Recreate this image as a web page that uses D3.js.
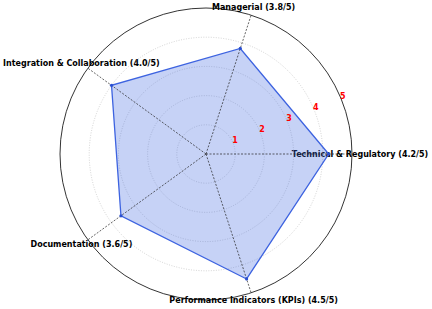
<!DOCTYPE html>
<html>
<head>
<meta charset="utf-8">
<script src="https://cdn.jsdelivr.net/npm/d3@7"></script>
<style>
  body { margin: 0; background: #fff; }
  svg { display: block; font-family: "DejaVu Sans", sans-serif; }
</style>
</head>
<body>
<div id="chart"></div>
<script>
// axis names and scores (out of 5)
var CATEGORIES = ['Technical & Regulatory', 'Managerial', 'Integration & Collaboration', 'Documentation', 'Performance Indicators (KPIs)'];
var SCORES = [4.2, 3.8, 4.0, 3.6, 4.5];
var RTICKS = [1, 2, 3, 4, 5];
var MAXSCORE = 5;

var width = 432, height = 309;
var cx = 206, cy = 154, radius = 146;

var svg = d3.select('#chart').append('svg')
    .attr('width', width)
    .attr('height', height);

var g = svg.append('g').attr('transform', 'translate(' + cx + ',' + cy + ')');

var r = d3.scaleLinear().domain([0, MAXSCORE]).range([0, radius]);
var angle = d3.scaleLinear().domain([0, CATEGORIES.length]).range([0, 2 * Math.PI]);

// polar -> screen (angle counter-clockwise from east)
function px(a, v) { return r(v) * Math.cos(a); }
function py(a, v) { return -r(v) * Math.sin(a); }

// category labels, drawn first so the grid passes over them
g.selectAll('text.cat')
  .data(CATEGORIES)
  .enter().append('text')
    .attr('class', 'cat')
    .attr('x', function(d, i) { return (radius + 8) * Math.cos(angle(i)); })
    .attr('y', function(d, i) { return -(radius + 8) * Math.sin(angle(i)); })
    .attr('text-anchor', 'middle')
    .attr('dominant-baseline', 'central')
    .style('font-size', '8px')
    .style('font-weight', 'bold')
    .style('fill', '#000')
    .text(function(d, i) { return d + ' (' + SCORES[i].toFixed(1) + '/5)'; });

// circular grid
g.selectAll('circle.grid')
  .data(RTICKS.slice(0, -1))
  .enter().append('circle')
    .attr('class', 'grid')
    .attr('r', function(d) { return r(d); })
    .attr('fill', 'none')
    .attr('stroke', '#c0c0c0')
    .attr('stroke-width', 0.7)
    .attr('stroke-dasharray', '1,1.5');

// data polygon
var line = d3.line()
  .x(function(d, i) { return px(angle(i), d); })
  .y(function(d, i) { return py(angle(i), d); })
  .curve(d3.curveLinearClosed);

g.append('path')
  .datum(SCORES)
  .attr('d', line)
  .attr('fill', 'rgba(65,105,225,0.3)')
  .attr('stroke', '#3d63e0')
  .attr('stroke-width', 1.3);

// spokes
g.selectAll('line.spoke')
  .data(CATEGORIES)
  .enter().append('line')
    .attr('class', 'spoke')
    .attr('x1', 0).attr('y1', 0)
    .attr('x2', function(d, i) { return px(angle(i), MAXSCORE); })
    .attr('y2', function(d, i) { return py(angle(i), MAXSCORE); })
    .attr('stroke', '#222')
    .attr('stroke-width', 0.7)
    .attr('stroke-dasharray', '2,1.5');

// outer ring
g.append('circle')
  .attr('r', r(MAXSCORE))
  .attr('fill', 'none')
  .attr('stroke', '#000')
  .attr('stroke-width', 0.8);

// vertex markers
g.selectAll('circle.pt')
  .data(SCORES)
  .enter().append('circle')
    .attr('class', 'pt')
    .attr('cx', function(d, i) { return px(angle(i), d); })
    .attr('cy', function(d, i) { return py(angle(i), d); })
    .attr('r', 1.6)
    .attr('fill', '#2a4fd0');

// radial tick labels
var labelAngle = 22.5 * Math.PI / 180;
g.selectAll('text.rtick')
  .data(RTICKS)
  .enter().append('text')
    .attr('class', 'rtick')
    .attr('x', function(d) { return px(labelAngle, d) + 2; })
    .attr('y', function(d) { return py(labelAngle, d) - 2; })
    .attr('text-anchor', 'middle')
    .attr('dominant-baseline', 'central')
    .style('font-size', '8px')
    .style('font-weight', 'bold')
    .style('fill', 'red')
    .text(function(d) { return d; });
</script>
</body>
</html>
